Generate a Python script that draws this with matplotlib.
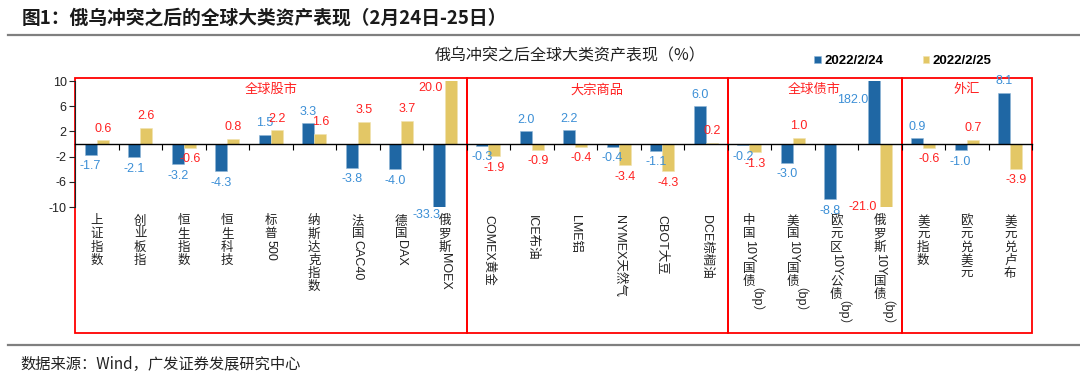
import matplotlib
matplotlib.use('Agg')
import numpy as np
import matplotlib.pyplot as plt
import matplotlib.transforms as mtransforms
from matplotlib.patches import Rectangle

plt.rcParams['font.family'] = ['Liberation Sans', 'Noto Sans CJK SC']
plt.rcParams['axes.unicode_minus'] = False

# Data
categories = ['上证指数', '创业板指', '恒生指数', '恒生科技', '标普500', '纳斯达克指数',
              '法国CAC40', '德国DAX', '俄罗斯MOEX',
              'COMEX黄金', 'ICE布油', 'LME铝', 'NYMEX天然气', 'CBOT大豆', 'DCE棕榈油',
              '中国10Y国债（bp）', '美国10Y国债（bp）', '欧元区10Y公债（bp）', '俄罗斯10Y国债（bp）',
              '美元指数', '欧元兑美元', '美元兑卢布']
d0224 = [-1.7, -2.1, -3.2, -4.3, 1.5, 3.3, -3.8, -4.0, -33.3,
         -0.3, 2.0, 2.2, -0.4, -1.1, 6.0,
         -0.2, -3.0, -8.8, 182.0,
         0.9, -1.0, 8.1]
d0225 = [0.6, 2.6, -0.6, 0.8, 2.2, 1.6, 3.5, 3.7, 20.0,
         -1.9, -0.9, -0.4, -3.4, -4.3, 0.2,
         -1.3, 1.0, np.nan, -21.0,
         -0.6, 0.7, -3.9]
groups = ['全球股市', '大宗商品', '全球债市', '外汇']
group_sizes = [9, 6, 4, 3]
series_names = ['2022/2/24', '2022/2/25']

# Style
blue = '#1F67A4'
gold = '#E3C766'
blue_txt = '#3C8FD6'
red_txt = '#FF2222'
box_red = '#FF0000'
fs_tick = 9
fs_val = 9
# labels of values beyond the axis range (offsets in points)
clip_offsets = {(0, 8): (-8.6, -5.8), (1, 8): (-14.5, -5),
                (0, 18): (-15, -13.5), (1, 18): (-16.5, 0)}

fig = plt.figure(figsize=(10.8, 3.84), dpi=100)
ax = fig.add_axes([75/1080, 1-207/384, (1032-75)/1080, 126/384])
renderer = fig.canvas.get_renderer()

n = len(categories)
x = np.arange(n)
w = 0.28
b1 = ax.bar(x - w/2, d0224, w, color=blue, edgecolor='#8fb6d8', linewidth=0.4)
b2 = ax.bar(x + w/2, d0225, w, color=gold, edgecolor='#f1e2b0', linewidth=0.4)

ax.set_xlim(-0.5, n - 0.5)
ax.set_ylim(-10, 10)
ax.set_yticks([-10, -6, -2, 2, 6, 10])
ax.tick_params(axis='y', labelsize=9, length=4, width=0.8, colors='#222222', pad=2)
ax.set_xticks(np.arange(-0.5, n, 1))
ax.tick_params(axis='x', length=4, width=0.8, direction='out', labelbottom=False)
for s in ['top', 'right']:
    ax.spines[s].set_visible(False)
ax.spines['bottom'].set_position(('data', 0))
ax.spines['bottom'].set_linewidth(1.0)
ax.spines['left'].set_linewidth(0.8)
ax.spines['left'].set_color('#222222')

# value labels
for k, (vals, xs, col) in enumerate([(d0224, x - w/2, blue_txt), (d0225, x + w/2, red_txt)]):
    for i, v in enumerate(vals):
        if np.isnan(v):
            continue
        txt = '%.1f' % v
        if (k, i) in clip_offsets:
            yv = float(np.clip(v, -10, 10))
            ax.annotate(txt, (xs[i], yv), xytext=clip_offsets[(k, i)], textcoords='offset points',
                        ha='center', va='center', fontsize=fs_val, color=col, annotation_clip=False)
        else:
            ax.annotate(txt, (xs[i], v), xytext=(0, 4 if v >= 0 else -4), textcoords='offset points',
                        ha='center', va='bottom' if v >= 0 else 'top', fontsize=fs_val, color=col,
                        annotation_clip=False)

# vertical category labels: CJK stacked upright, latin runs turned
def is_cjk(c):
    return ord(c[0]) > 0x2E80 and c[0] not in '（）'

def vlabel(xc, text, rotate_all):
    if rotate_all:
        ax.annotate(text, (xc, -10), xytext=(0, -6), textcoords='offset points', rotation=-90,
                    ha='center', va='top', fontsize=fs_tick, color='#222222', annotation_clip=False)
        return
    runs = []
    for c in text:
        if is_cjk(c) or not runs or is_cjk(runs[-1][-1]):
            runs.append(c)
        else:
            runs[-1] += c
    off = -6.0
    prev_cjk = False
    for r in runs:
        if is_cjk(r):
            ax.annotate(r, (xc, -10), xytext=(0, off), textcoords='offset points',
                        ha='center', va='top', fontsize=fs_tick, color='#222222', annotation_clip=False)
            off -= fs_tick * 1.05
            prev_cjk = True
        else:
            if prev_cjk:
                off += 1.5
            t = ax.annotate(r, (xc, -10), xytext=(0, off), textcoords='offset points', rotation=-90,
                            ha='center', va='top', fontsize=fs_tick, color='#222222', annotation_clip=False)
            h = t.get_window_extent(renderer).height * 72 / fig.dpi
            off -= h + 0.8
            prev_cjk = False

trans = mtransforms.blended_transform_factory(ax.transData, ax.transAxes)
start = 0
for g, size in zip(groups, group_sizes):
    for i in range(start, start + size):
        vlabel(i, categories[i], g == '大宗商品')
    # group boxes
    ax.add_patch(Rectangle((start - 0.5, -1.0), size, 2.024, transform=trans, fill=False,
                           edgecolor=box_red, linewidth=1.3, clip_on=False))
    ax.text(start - 0.5 + size / 2, 0.93, g, transform=trans, ha='center', va='center',
            fontsize=9.5, color=red_txt, family=['Noto Sans CJK SC'])
    start += size

# titles, legend, rules
fig.text(22/1080, 1-18/384, '图1：俄乌冲突之后的全球大类资产表现（2月24日-25日）', ha='left', va='center',
         fontsize=13.5, fontweight='bold', color='#1a1a1a', family=['Noto Sans CJK SC'])
fig.add_artist(plt.Line2D([8/1080, 1], [1-35/384, 1-35/384], color='#7f7f7f', linewidth=1.6))
fig.text(570/1080, 1-56/384, '俄乌冲突之后全球大类资产表现（%）', ha='center', va='center',
         fontsize=11.5, color='#222222', family=['Noto Sans CJK SC'])
fig.legend([b1, b2], series_names, loc='center', bbox_to_anchor=(903/1080, 1-61/384), ncol=2,
           frameon=False, handlelength=0.5, handleheight=0.5, handletextpad=0.25, columnspacing=3.0,
           prop={'family': 'Liberation Sans', 'weight': 'bold', 'size': 9.5})
fig.add_artist(plt.Line2D([8/1080, 1], [1-345/384, 1-345/384], color='#7f7f7f', linewidth=1.6))
fig.text(20/1080, 1-364/384, '数据来源：Wind，广发证券发展研究中心', ha='left', va='center',
         fontsize=11, color='#222222', family=['Noto Sans CJK SC'])

fig.savefig('out.png', dpi=100)
